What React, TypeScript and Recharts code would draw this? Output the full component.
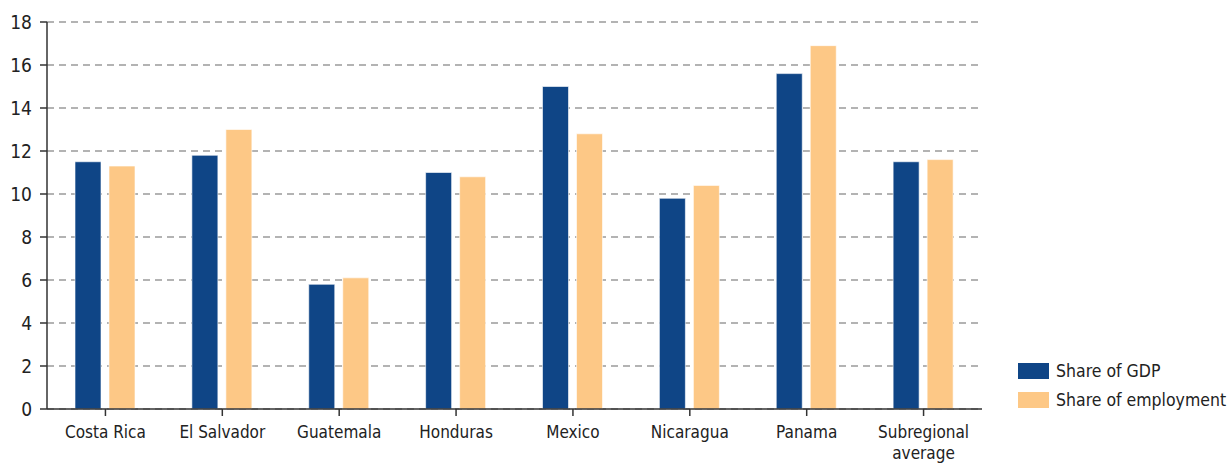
import React from "react";
import { BarChart, Bar, XAxis, YAxis, CartesianGrid } from "recharts";

const categories = ["Costa Rica", "El Salvador", "Guatemala", "Honduras", "Mexico", "Nicaragua", "Panama", "Subregional average"];
const shareGDP = [11.5, 11.8, 5.8, 11.0, 15.0, 9.8, 15.6, 11.5];
const shareEmployment = [11.3, 13.0, 6.1, 10.8, 12.8, 10.4, 16.9, 11.6];
const yTicks = [0, 2, 4, 6, 8, 10, 12, 14, 16, 18];
const seriesNames = ["Share of GDP", "Share of employment"];
const colors = ["#0F4586", "#FDC886"];

const data = categories.map((c, i) => ({ name: c, gdp: shareGDP[i], emp: shareEmployment[i] }));

const FONT = '"Liberation Sans Narrow", "DejaVu Sans Condensed", "Roboto", sans-serif';

const XTick = (props: any) => {
  const { x, y, payload } = props;
  const label: string = payload.value;
  const lines = label === "Subregional average" ? ["Subregional", "average"] : [label];
  return (
    <text x={x} y={y} textAnchor="middle" fill="#222" fontSize={17} fontFamily={FONT}>
      {lines.map((l, i) => (
        <tspan key={i} x={x} dy={i === 0 ? 22 : 21}>{l}</tspan>
      ))}
    </text>
  );
};

export default function App() {
  return (
    <div style={{ position: "absolute", left: 0, top: 0, width: 1231, height: 463, background: "#fff" }}>
      <BarChart
        width={1231}
        height={463}
        data={data}
        margin={{ top: 22, right: 249, left: 0, bottom: 0 }}
        barCategoryGap={28}
        barGap={8}
      >
        <CartesianGrid vertical={false} stroke="#9a9a9a" strokeDasharray="7 5" strokeWidth={1.3} />
        <XAxis
          dataKey="name"
          height={54}
          tick={<XTick />}
          tickSize={7}
          tickMargin={0}
          interval={0}
          stroke="#333"
          axisLine={{ stroke: "#333", strokeWidth: 1.5 }}
          tickLine={{ stroke: "#333", strokeWidth: 1.5 }}
        />
        <YAxis
          width={47}
          domain={[0, 18]}
          ticks={yTicks}
          interval={0}
          tickSize={7}
          tickMargin={8}
          axisLine={{ stroke: "#333", strokeWidth: 1.5 }}
          tickLine={{ stroke: "#333", strokeWidth: 1.5 }}
          tick={{ fill: "#222", fontSize: 19, fontFamily: FONT }}
        />
        <Bar dataKey="gdp" name={seriesNames[0]} fill={colors[0]} stroke="#ffffff" strokeWidth={0.6} isAnimationActive={false} />
        <Bar dataKey="emp" name={seriesNames[1]} fill={colors[1]} stroke="#ffffff" strokeWidth={0.6} isAnimationActive={false} />
      </BarChart>
      <div style={{ position: "absolute", left: 1018, top: 356, fontFamily: FONT, fontSize: 17.5, color: "#222", whiteSpace: "nowrap" }}>
        {seriesNames.map((n, i) => (
          <div key={n} style={{ display: "flex", alignItems: "center", height: 29 }}>
            <div style={{ width: 31, height: 16, background: colors[i], marginRight: 7 }} />
            <span>{n}</span>
          </div>
        ))}
      </div>
    </div>
  );
}
